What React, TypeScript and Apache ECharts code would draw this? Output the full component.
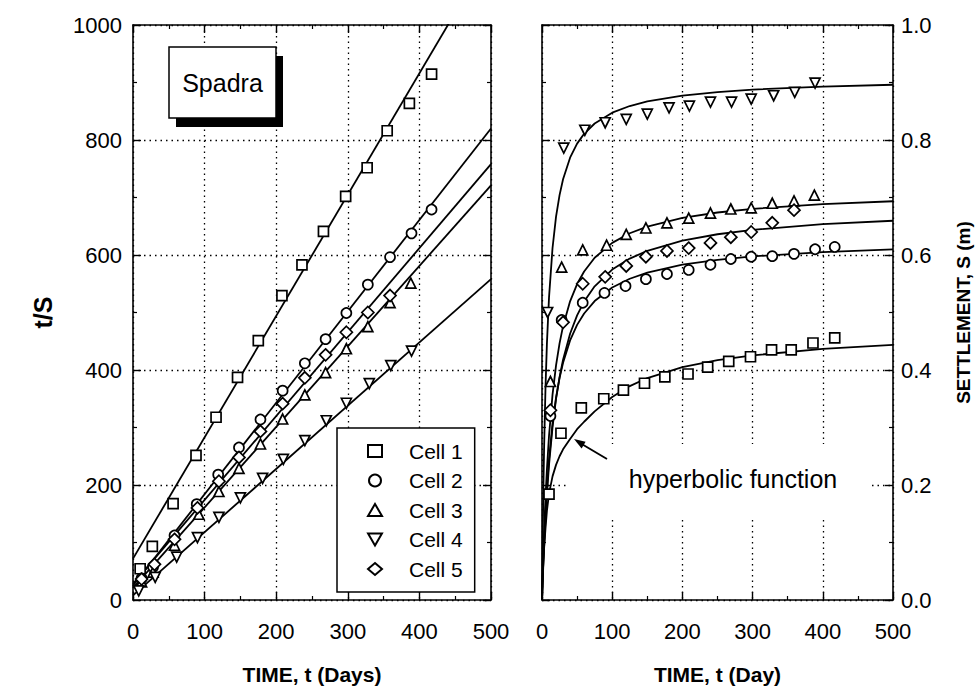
import React, { useEffect, useRef } from "react";
import * as echarts from "echarts";

const cellNames = ["Cell 1", "Cell 2", "Cell 3", "Cell 4", "Cell 5"];
const cellSymbols = ["rect", "circle", "triangle", "path://M0,0L2,0L1,1.732Z", "diamond"];

// measured settlement data (time in days, settlement in m)
const cell1T = [10, 27, 56, 88, 116, 146, 175, 208, 236, 266, 297, 327, 355, 386, 417];
const cell1S = [0.184, 0.29, 0.334, 0.35, 0.365, 0.377, 0.388, 0.393, 0.405, 0.415, 0.423, 0.435, 0.435, 0.447, 0.456];
const cell2T = [12, 28, 58, 89, 119, 148, 178, 209, 240, 269, 298, 328, 359, 389, 417];
const cell2S = [0.32, 0.487, 0.517, 0.534, 0.546, 0.558, 0.567, 0.574, 0.583, 0.593, 0.597, 0.598, 0.602, 0.61, 0.614];
const cell3T = [12, 28, 58, 92, 120, 148, 178, 209, 240, 269, 298, 328, 359, 388];
const cell3S = [0.38, 0.579, 0.609, 0.617, 0.636, 0.647, 0.656, 0.664, 0.673, 0.68, 0.682, 0.69, 0.694, 0.704];
const cell4T = [8, 31, 61, 90, 120, 150, 181, 210, 240, 270, 298, 330, 360, 389];
const cell4S = [0.5, 0.786, 0.817, 0.83, 0.836, 0.845, 0.856, 0.859, 0.866, 0.866, 0.871, 0.877, 0.883, 0.899];
const cell5T = [12, 30, 58, 90, 120, 148, 178, 209, 240, 269, 298, 328, 359];
const cell5S = [0.33, 0.483, 0.55, 0.562, 0.581, 0.597, 0.607, 0.612, 0.621, 0.631, 0.64, 0.656, 0.678];

// fitted straight lines t/S (left panel), read at t = 0 and t = 500
const fitT = [0, 500];
const fit1 = [72, 1127];
const fit2 = [25, 820];
const fit3 = [21, 721];
const fit4 = [8, 558];
const fit5 = [28, 758];

// hyperbolic curves S(t) (right panel)
const curveT = [0, 1, 2, 3, 5, 7, 10, 15, 20, 25, 30, 40, 50, 60, 75, 100, 125, 150, 200, 250, 300, 400, 500];
const curve1 = [0, 0.04, 0.07, 0.09, 0.125, 0.155, 0.185, 0.215, 0.235, 0.25, 0.262, 0.28, 0.297, 0.31, 0.328, 0.353, 0.372, 0.386, 0.405, 0.417, 0.4255, 0.4367, 0.4437];
const curve2 = [0, 0.0376, 0.071, 0.1008, 0.1517, 0.1937, 0.2445, 0.3071, 0.3521, 0.3861, 0.4127, 0.4515, 0.4785, 0.4983, 0.5199, 0.5435, 0.5587, 0.5693, 0.5831, 0.5917, 0.5976, 0.6051, 0.6098];
const curve3 = [0, 0.0446, 0.084, 0.119, 0.1786, 0.2273, 0.2857, 0.3571, 0.4082, 0.4464, 0.4762, 0.5195, 0.5495, 0.5714, 0.5952, 0.6211, 0.6378, 0.6494, 0.6645, 0.6739, 0.6803, 0.6885, 0.6935];
const curve4 = [0, 0.1099, 0.1961, 0.2655, 0.3704, 0.4459, 0.5263, 0.6122, 0.6667, 0.7042, 0.7317, 0.7692, 0.7937, 0.8108, 0.8287, 0.8475, 0.8591, 0.8671, 0.8772, 0.8834, 0.8876, 0.8929, 0.8961];
const curve5 = [0, 0.0339, 0.0647, 0.0927, 0.1416, 0.1832, 0.2347, 0.3006, 0.3497, 0.3876, 0.4178, 0.463, 0.495, 0.519, 0.5455, 0.5747, 0.5938, 0.6073, 0.625, 0.6361, 0.6438, 0.6536, 0.6596];

const xTicks = [0, 500, 100];
const yLeftTicks = [0, 1000, 200];
const yRightTicks = [0, 1.0, 0.2];

const cellsT = [cell1T, cell2T, cell3T, cell4T, cell5T];
const cellsS = [cell1S, cell2S, cell3S, cell4S, cell5S];
const fits = [fit1, fit2, fit3, fit4, fit5];
const curves = [curve1, curve2, curve3, curve4, curve5];

const FONT = "Liberation Sans, Arial, Helvetica, sans-serif";

function makeX(grid: number, pos: "bottom" | "top", name?: string): any {
  const bottom = pos === "bottom";
  return {
    type: "value",
    gridIndex: grid,
    position: pos,
    min: xTicks[0],
    max: xTicks[1],
    interval: xTicks[2],
    axisLine: { show: true, onZero: false, lineStyle: { color: "#000", width: 1.6 } },
    axisTick: { show: true, inside: true, length: 8, lineStyle: { color: "#000", width: 1.4 } },
    minorTick: { show: true, splitNumber: 2, length: 4, lineStyle: { color: "#000", width: 1.2 } },
    splitLine: bottom
      ? { show: true, lineStyle: { color: "#000", type: [1.5, 4], width: 1.3 } }
      : { show: false },
    axisLabel: bottom
      ? { show: true, fontSize: 22, margin: 20, color: "#000", fontFamily: FONT, formatter: (v: number) => String(v) }
      : { show: false },
    name: name,
    nameLocation: "middle",
    nameGap: 64,
    nameTextStyle: { fontSize: 21, fontWeight: "bold", color: "#000", fontFamily: FONT },
  };
}

function makeY(grid: number, pos: "left" | "right", ticks: number[], labels: boolean, name?: string, fmt?: any): any {
  return {
    type: "value",
    gridIndex: grid,
    position: pos,
    min: ticks[0],
    max: ticks[1],
    interval: ticks[2],
    axisLine: { show: true, onZero: false, lineStyle: { color: "#000", width: 1.6 } },
    axisTick: { show: true, inside: true, length: 8, lineStyle: { color: "#000", width: 1.4 } },
    minorTick: { show: true, splitNumber: 2, length: 4, lineStyle: { color: "#000", width: 1.2 } },
    splitLine: pos === "left"
      ? { show: true, lineStyle: { color: "#000", type: [1.5, 4], width: 1.3 } }
      : { show: false },
    axisLabel: labels
      ? { show: true, fontSize: 22, margin: pos === "left" ? 11 : 8, color: "#000", fontFamily: FONT, formatter: fmt }
      : { show: false },
    name: name,
    nameLocation: "middle",
    nameRotate: 90,
    nameGap: pos === "left" ? 78 : 61,
    nameTextStyle: {
      fontSize: pos === "left" ? 25 : 19,
      fontWeight: "bold",
      color: "#000",
      fontFamily: FONT,
    },
  };
}

export default function App() {
  const ref = useRef<HTMLDivElement>(null);
  useEffect(() => {
    document.body.style.margin = "0";
    if (!ref.current) return;
    const chart = echarts.init(ref.current, undefined, { renderer: "svg" });

    const series: any[] = [];
    for (let i = 0; i < 5; i++) {
      series.push({
        type: "line",
        xAxisIndex: 0,
        yAxisIndex: 0,
        data: fitT.map((t, k) => [t, fits[i][k]]),
        symbol: "none",
        clip: true,
        lineStyle: { color: "#000", width: 1.8 },
        z: 3,
        silent: true,
      });
      series.push({
        type: "line",
        xAxisIndex: 2,
        yAxisIndex: 2,
        data: curveT.map((t, k) => [t, curves[i][k]]),
        symbol: "none",
        smooth: false,
        clip: true,
        lineStyle: { color: "#000", width: 1.8, join: "round" },
        z: 3,
        silent: true,
      });
    }
    for (let i = 0; i < 5; i++) {
      const common = {
        type: "scatter",
        name: cellNames[i],
        symbol: cellSymbols[i],
        symbolSize: i === 4 ? 12 : 10,
        itemStyle: { color: "#fff", borderColor: "#000", borderWidth: 1.7, opacity: 1 },
        z: 4,
      };
      series.push({
        ...common,
        xAxisIndex: 0,
        yAxisIndex: 0,
        data: cellsT[i].map((t, k) => [t, t / cellsS[i][k]]),
      });
      series.push({
        ...common,
        xAxisIndex: 2,
        yAxisIndex: 2,
        data: cellsT[i].map((t, k) => [t, cellsS[i][k]]),
      });
    }

    const option: any = {
      animation: false,
      backgroundColor: "#fff",
      grid: [
        { left: 133, right: 488, top: 25, bottom: 90 },
        { left: 542, right: 86, top: 25, bottom: 90 },
      ],
      xAxis: [
        makeX(0, "bottom", "TIME, t (Days)"),
        makeX(0, "top"),
        makeX(1, "bottom", "TIME, t (Day)"),
        makeX(1, "top"),
      ],
      yAxis: [
        makeY(0, "left", yLeftTicks, true, "t/S", (v: number) => String(v)),
        makeY(0, "right", yLeftTicks, false),
        makeY(1, "left", yRightTicks, false),
        makeY(1, "right", yRightTicks, true, "SETTLEMENT, S (m)", (v: number) => v.toFixed(1)),
      ],
      legend: {
        data: cellNames,
        orient: "vertical",
        left: 337,
        top: 428,
        selectedMode: false,
        itemWidth: 14,
        itemHeight: 12,
        itemGap: 7.5,
        padding: [12, 12, 12, 30],
        backgroundColor: "#fff",
        borderColor: "#000",
        borderWidth: 1.5,
        textStyle: {
          fontSize: 21,
          lineHeight: 22,
          color: "#000",
          fontFamily: FONT,
          padding: [0, 0, 0, 22],
        },
        z: 10,
      },
      graphic: [
        {
          type: "rect",
          z: 20,
          shape: { x: 176, y: 56, width: 107, height: 71 },
          style: { fill: "#000" },
        },
        {
          type: "rect",
          z: 21,
          shape: { x: 169, y: 47, width: 107, height: 71 },
          style: { fill: "#fff", stroke: "#000", lineWidth: 1.5 },
        },
        {
          type: "text",
          z: 22,
          x: 222.5,
          y: 83,
          style: {
            text: "Spadra",
            fill: "#000",
            fontSize: 25,
            fontFamily: FONT,
            align: "center",
            verticalAlign: "middle",
          },
        },
        {
          type: "rect",
          z: 19,
          shape: { x: 568, y: 444, width: 300, height: 72 },
          style: { fill: "#fff" },
        },
        {
          type: "text",
          z: 22,
          x: 733,
          y: 479,
          style: {
            text: "hyperbolic function",
            fill: "#000",
            fontSize: 25,
            fontFamily: FONT,
            align: "center",
            verticalAlign: "middle",
          },
        },
        {
          type: "line",
          z: 22,
          shape: { x1: 607, y1: 459, x2: 580, y2: 443 },
          style: { stroke: "#000", lineWidth: 1.8 },
        },
        {
          type: "polygon",
          z: 22,
          shape: { points: [[574, 439], [585.6, 441.7], [581.6, 448.5]] },
          style: { fill: "#000" },
        },
      ],
      series,
    };
    chart.setOption(option);
    return () => chart.dispose();
  }, []);
  return <div ref={ref} style={{ width: 979, height: 690 }} />;
}
